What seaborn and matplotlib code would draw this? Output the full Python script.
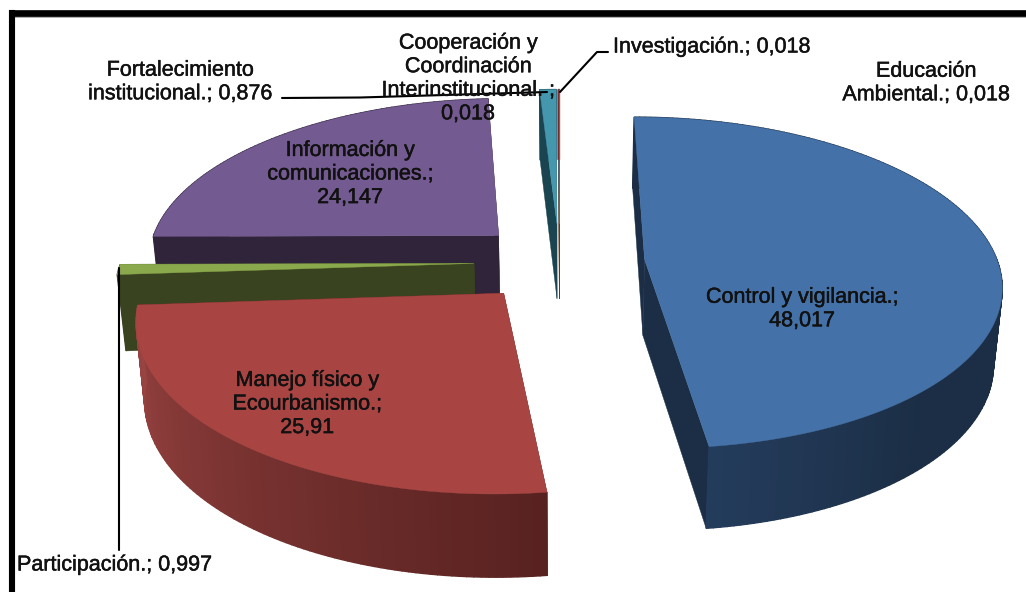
import numpy as np
import matplotlib
matplotlib.use("Agg")
import matplotlib.pyplot as plt
import matplotlib.patheffects as pe
import seaborn as sns

names = ["Control y vigilancia.", "Manejo físico y\nEcourbanismo.", "Participación.",
         "Información y\ncomunicaciones.", "Fortalecimiento\ninstitucional.",
         "Cooperación y\nCoordinación\nInterinstitucional. ", "Investigación.",
         "Educación\nAmbiental."]
values = [48.017, 25.91, 0.997, 24.147, 0.876, 0.018, 0.018, 0.018]
top_colors = ["#4472a8", "#a84543", "#8aa84c", "#735a90", "#4597ae", "#d9924f", "#5b7fa8", "#a05a58"]
wall_start = ["#1b2e45", "#582220", "#3a431f", "#2f2439", "#1a4450", "#8a5a30", "#2c4d75", "#772c2a"]
wall_end = ["#243c5c", "#9a4442", "#3a431f", "#2f2439", "#1a4450", "#8a5a30", "#2c4d75", "#772c2a"]
draw_order = [3, 4, 5, 6, 7, 2, 1, 0]

# fake perspective of the excel 3d pie, all in pixels of the output
cx, cy = 559.5, 262
rx, ry = 353, 163
k = 0.14
explode = 0.242
height = 76
shrink = 0.98

sns.set_theme(style="white")
plt.rcParams["font.family"] = ["Liberation Sans", "DejaVu Sans"]


def project(X, Y):
    w = 1 + k * Y
    return cx + rx * X / w, cy - ry * Y / w, w


def lower(x, y, w):
    return cx + (x - cx) * shrink, y + height / np.sqrt(w)


def label(i):
    return names[i] + ";" + ("\n" if i in (0, 1, 3, 5) else " ") + str(values[i]).replace(".", ",")


fig = plt.figure(figsize=(10.26, 5.92), dpi=100)
ax = fig.add_axes([12.2 / 1026, 0, 1 - 12.2 / 1026, 1 - 12.7 / 592])
ax.set_xlim(12.2, 1026)
ax.set_ylim(592, 12.7)
ax.set_xticks([])
ax.set_yticks([])
for side in ["right", "bottom"]:
    ax.spines[side].set_visible(False)
ax.spines["top"].set_linewidth(4.8)
ax.spines["left"].set_linewidth(4.4)
ax.spines["top"].set_color("black")
ax.spines["left"].set_color("black")
ax.hlines(17, 15, 1026, color="#a0a0a0", lw=1.2, zorder=1)

edges = np.radians(np.concatenate([[0], np.cumsum(values)]) / sum(values) * 360)

for i in draw_order:
    t0, t1 = edges[i], edges[i + 1]
    mid = (t0 + t1) / 2
    ox, oy = explode * np.sin(mid), explode * np.cos(mid)
    t = np.linspace(t0, t1, max(3, int(np.degrees(t1 - t0))))
    ax_top, ay_top, aw = project(ox, oy)
    xs, ys, ws = project(ox + np.sin(t), oy + np.cos(t))
    bx, by = lower(xs, ys, ws)
    abx, aby = lower(ax_top, ay_top, aw)

    # radial walls
    ax.fill([xs[0], ax_top, abx, bx[0]], [ys[0], ay_top, aby, by[0]], color=wall_start[i], lw=0.3, zorder=2)
    ax.fill([xs[-1], ax_top, abx, bx[-1]], [ys[-1], ay_top, aby, by[-1]], color=wall_start[i], lw=0.3, zorder=2)
    # outer wall in strips for the gradient, blue stays dark for most of its arc
    stops = [wall_start[i]] * 5 + [wall_end[i]] if i == 0 else [wall_start[i], wall_end[i]]
    strip = sns.blend_palette(stops, len(t) - 1)
    for j in range(len(t) - 1):
        ax.fill([xs[j], xs[j + 1], bx[j + 1], bx[j]], [ys[j], ys[j + 1], by[j + 1], by[j]],
                color=strip[j], lw=1, zorder=2)
    ax.fill(np.r_[ax_top, xs], np.r_[ay_top, ys], color=top_colors[i], lw=0.3, zorder=2)

ax.plot([282, 360, 547], [98, 97.5, 92], color="black", lw=1.5, zorder=3)
ax.plot([608, 597, 560], [52, 52, 92], color="black", lw=1.5, zorder=3)
ax.plot([119, 119], [268, 550], color="black", lw=1.5, zorder=3)

fs = 15.5
ts = dict(color="#111111", fontsize=fs, ha="center", va="center", zorder=4, linespacing=1.16,
          path_effects=[pe.withStroke(linewidth=0.35, foreground="#111111")])
ax.text(802, 309, label(0), **ts)
ax.text(307, 404, label(1), **ts)
ax.text(17, 565, label(2), **{**ts, "ha": "left"})
ax.text(350, 174, label(3), **ts)
ax.text(180, 82, label(4), **ts)
ax.text(468, 78.5, label(5), **ts)
ax.text(613, 47, label(6), **{**ts, "ha": "left"})
ax.text(926, 83, label(7), **ts)

fig.savefig("out.png", dpi=100)
